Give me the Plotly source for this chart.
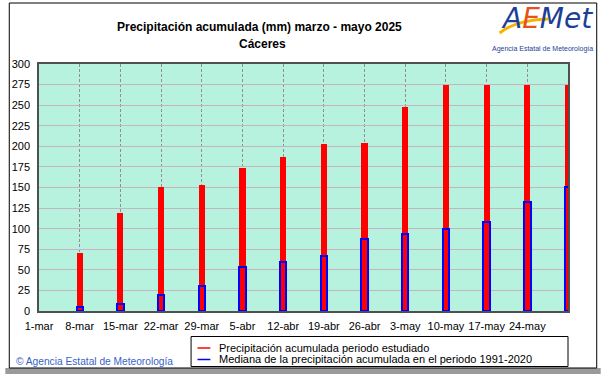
import plotly.graph_objects as go

# ---- data ----
dates = ["2025-03-08", "2025-03-15", "2025-03-22", "2025-03-29", "2025-04-05",
         "2025-04-12", "2025-04-19", "2025-04-26", "2025-05-03", "2025-05-10",
         "2025-05-17", "2025-05-24", "2025-05-31"]
precip_acum = [71, 119, 151, 153, 174, 187, 203, 204, 248, 275, 275, 275, 275]
mediana_acum = [5, 9, 19, 30, 53, 60, 67, 87, 93, 99, 108, 132, 151]
tick_dates = ["2025-03-01", "2025-03-08", "2025-03-15", "2025-03-22", "2025-03-29",
              "2025-04-05", "2025-04-12", "2025-04-19", "2025-04-26", "2025-05-03",
              "2025-05-10", "2025-05-17", "2025-05-24"]
tick_labels = ["1-mar", "8-mar", "15-mar", "22-mar", "29-mar", "5-abr", "12-abr",
               "19-abr", "26-abr", "3-may", "10-may", "17-may", "24-may"]
y_ticks = list(range(0, 301, 25))

title1 = "Precipitación acumulada (mm) marzo - mayo 2025"
title2 = "Cáceres"
legend1 = "Precipitación acumulada periodo estudiado"
legend2 = "Mediana de la precipitación acumulada en el periodo 1991-2020"

W, H = 601, 374
L, R, T, B = 34, 33, 64, 63
PW, PH = W - L - R, H - T - B


def px(x):
    return (x - L) / PW


def py(y):
    return (H - B - y) / PH


DAY = 86400000
FONT = "Liberation Sans, Arial, sans-serif"
TFONT = "Liberation Sans Narrow, Arial Narrow, Liberation Sans, Arial, sans-serif"

fig = go.Figure()
fig.add_trace(go.Bar(x=dates, y=precip_acum, width=DAY * 1.05,
                     marker=dict(color="#ff0000", line=dict(width=0)),
                     cliponaxis=False, showlegend=False, name=legend1))
fig.add_trace(go.Bar(x=dates, y=mediana_acum, width=DAY * 1.1,
                     marker=dict(color="rgba(0,0,0,0)", line=dict(color="#0000ff", width=2)),
                     cliponaxis=False, showlegend=False, name=legend2))

shapes = []
# outer frame
shapes.append(dict(type="rect", xref="paper", yref="paper", x0=px(0), x1=px(W), y0=py(374), y1=py(368),
                   line=dict(width=0), fillcolor="#9a9a9a", layer="below"))
shapes.append(dict(type="rect", xref="paper", yref="paper", x0=px(4), x1=px(597), y0=py(368), y1=py(3),
                   line=dict(color="#000000", width=1), fillcolor="rgba(0,0,0,0)", layer="below"))
# legend box
shapes.append(dict(type="rect", xref="paper", yref="paper", x0=px(187.5), x1=px(568), y0=py(366.5), y1=py(336.5),
                   line=dict(color="#000000", width=1), fillcolor="#ffffff"))
shapes.append(dict(type="line", xref="paper", yref="paper", x0=px(194), x1=px(207), y0=py(348), y1=py(348),
                   line=dict(color="#ff0000", width=1.5)))
shapes.append(dict(type="line", xref="paper", yref="paper", x0=px(194), x1=px(207), y0=py(359.5), y1=py(359.5),
                   line=dict(color="#0000ff", width=1.5)))
# logo swoosh
shapes.append(dict(type="path", xref="paper", yref="paper",
                   path=f"M {px(499)},{py(33)} Q {px(515)},{py(20)} {px(548)},{py(19)}",
                   line=dict(color="#f6b400", width=3)))

annotations = [
    dict(text=f"<b>{title1}</b>", x=px(257), y=py(27), xref="paper", yref="paper", showarrow=False,
         xanchor="center", yanchor="middle", font=dict(family=TFONT, size=12, color="#000000")),
    dict(text=f"<b>{title2}</b>", x=px(260), y=py(44), xref="paper", yref="paper", showarrow=False,
         xanchor="center", yanchor="middle", font=dict(family=TFONT, size=12, color="#000000")),
    dict(text=legend1, x=px(214), y=py(347.5), xref="paper", yref="paper", showarrow=False,
         xanchor="left", yanchor="middle", font=dict(family=FONT, size=11, color="#000000")),
    dict(text=legend2, x=px(214), y=py(359), xref="paper", yref="paper", showarrow=False,
         xanchor="left", yanchor="middle", font=dict(family=FONT, size=11, color="#000000")),
    dict(text="© Agencia Estatal de Meteorología", x=px(9), y=py(361), xref="paper", yref="paper", showarrow=False,
         xanchor="left", yanchor="middle", font=dict(family=FONT, size=10.2, color="#3a5fc8")),
    dict(text="<i>A<span style='color:#e8501e'>E</span>Met</i>", x=px(547), y=py(19), xref="paper", yref="paper",
         showarrow=False, xanchor="center", yanchor="middle",
         font=dict(family="DejaVu Sans, sans-serif", size=28, color="#1d3f96")),
    dict(text="Agencia Estatal de Meteorología", x=px(542), y=py(49), xref="paper", yref="paper", showarrow=False,
         xanchor="center", yanchor="middle", font=dict(family=FONT, size=7, color="#1d3f96")),
]

fig.update_layout(
    width=W, height=H,
    margin=dict(l=L, r=R, t=T, b=B, pad=0),
    paper_bgcolor="#ffffff",
    plot_bgcolor="#b6f2de",
    barmode="overlay",
    bargap=0,
    showlegend=False,
    shapes=shapes,
    annotations=annotations,
    font=dict(family=FONT, size=11, color="#000000"),
    xaxis=dict(type="date", range=["2025-03-01", "2025-05-31"], tickmode="array",
               tickvals=tick_dates, ticktext=tick_labels, showgrid=True, gridcolor="#909090",
               griddash="3px,2px", gridwidth=1, showline=True, linecolor="#505050", linewidth=1.5,
               mirror=True, ticks="", ticklabelstandoff=4, zeroline=False,
               tickfont=dict(family=FONT, size=11, color="#000000")),
    yaxis=dict(range=[0, 300], tickmode="array", tickvals=y_ticks, showgrid=True,
               gridcolor="#c4b4c6", gridwidth=1.2, showline=True, linecolor="#505050",
               linewidth=1.5, mirror=True, ticks="", ticklabelstandoff=5, zeroline=False,
               tickfont=dict(family=FONT, size=11, color="#000000")),
)

fig.write_html("out.html", config={"displayModeBar": False},
               post_script="document.body.style.margin='0';")
